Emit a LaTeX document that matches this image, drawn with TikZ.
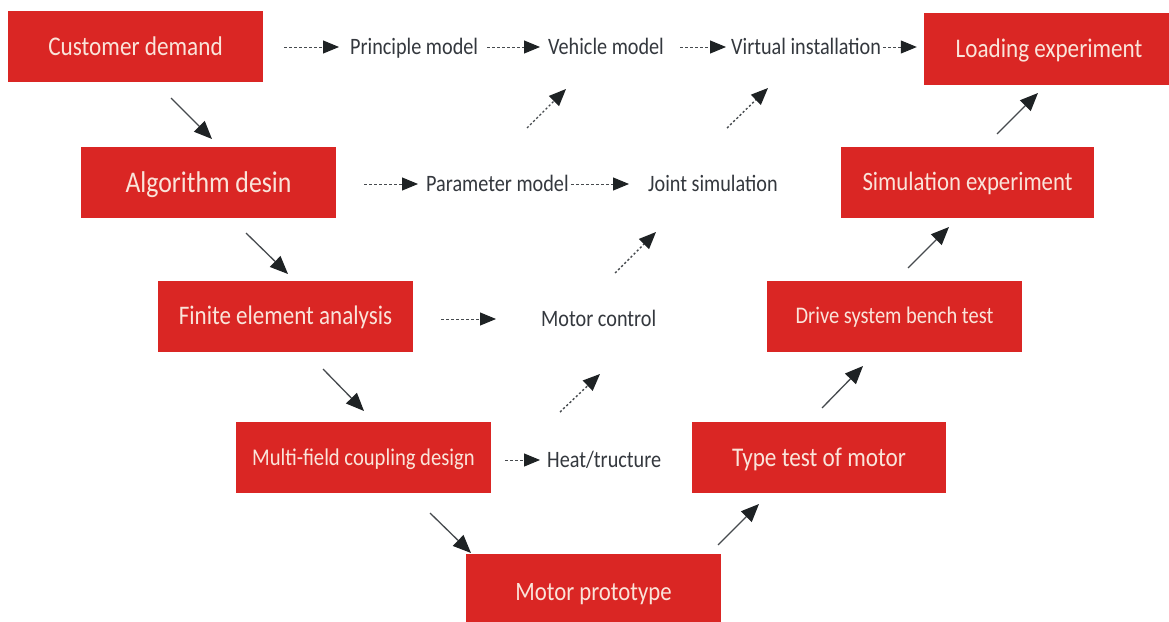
\documentclass[tikz,border=0pt]{standalone}
\usepackage{fontspec}
\setmainfont{Carlito}[FakeStretch=0.86]
\usetikzlibrary{arrows.meta}
\definecolor{boxred}{RGB}{218,38,36}
\definecolor{boxtext}{RGB}{250,228,218}
\definecolor{lbltext}{RGB}{52,56,62}
\definecolor{arrowcol}{RGB}{30,34,36}
\definecolor{linecol}{RGB}{70,74,78}
\begin{document}
\begin{tikzpicture}[x=1pt,y=-1pt,
  redbox/.style 2 args={fill=boxred, draw=none, minimum width=255pt, minimum height=71pt, inner sep=0pt,
    text=boxtext, text height=#2, text depth=0pt, font=\fontsize{#1}{#1}\selectfont},
  lbl/.style={inner sep=0pt, text=lbltext, text height=14.8pt, text depth=0pt, font=\fontsize{23.5pt}{24pt}\selectfont},
  darr/.style={draw=linecol, dash pattern=on 3pt off 2pt, line width=1pt, -{Triangle[length=16pt,width=13pt,fill=arrowcol,color=arrowcol]}},
  ddiag/.style={draw=linecol, dash pattern=on 2.2pt off 2.2pt, line width=1.4pt, -{Triangle[length=17pt,width=14pt,fill=arrowcol,color=arrowcol]}},
  sarr/.style={draw=linecol, line width=1.3pt, -{Triangle[length=18pt,width=15pt,fill=arrowcol,color=arrowcol]}}]
\useasboundingbox (0,0) rectangle (1169,621);
\fill[white] (0,0) rectangle (1169,621);
% red boxes
\node[redbox={27pt}{17pt}] (cd) at (135.5,46.5) {Customer demand};
\node[redbox={30pt}{19pt}] (ad) at (208.5,182.5) {Algorithm desin};
\node[redbox={26.8pt}{16.9pt}] (fe) at (285.5,316.5) {Finite element analysis};
\node[redbox={24pt}{15.2pt}] (mf) at (363.5,457.5) {Multi-field coupling design};
\node[redbox={26.5pt}{16.7pt}, minimum height=76pt] (mp) at (593.5,592) {Motor prototype};
\node[redbox={27pt}{17pt}, minimum width=254pt] (tt) at (819,457.5) {Type test of motor};
\node[redbox={23.8pt}{15pt}] (ds) at (894.5,316) {Drive system bench test};
\node[redbox={26.5pt}{16.7pt}, minimum width=253pt] (se) at (967.5,182.5) {Simulation experiment};
\node[redbox={26.9pt}{17pt}, minimum width=250pt, minimum height=72pt] (le) at (1049,48.5) {Loading experiment};
% labels
\node[lbl, anchor=west] (pm) at (350,47) {Principle model};
\node[lbl, anchor=west] (vm) at (548,47) {Vehicle model};
\node[lbl, anchor=west] (vi) at (731,47) {Virtual installation};
\node[lbl, anchor=west] (pa) at (426,184) {Parameter model};
\node[lbl, anchor=west] (js) at (648,184) {Joint simulation};
\node[lbl, anchor=west] (mc) at (541,319) {Motor control};
\node[lbl, anchor=west] (ht) at (547,460) {Heat/tructure};
% horizontal dashed arrows
\draw[darr, shorten <=21pt, shorten >=11pt] (cd.east |- pm.west) -- (pm.west);
\draw[darr, shorten <=9pt, shorten >=8pt] (pm.east) -- (vm.west);
\draw[darr, shorten <=16pt, shorten >=5pt] (vm.east) -- (vi.west);
\draw[darr, shorten <=2pt, shorten >=7pt] (vi.east) -- (le.west |- vi.east);
\draw[darr, shorten <=28pt, shorten >=8pt] (ad.east |- pa.west) -- (pa.west);
\draw[darr, shorten <=2pt, shorten >=19pt] (pa.east) -- (js.west);
\draw[darr, shorten <=28pt, shorten >=45pt] (fe.east |- mc.west) -- (mc.west);
\draw[darr, shorten <=14pt, shorten >=7pt] (mf.east |- ht.west) -- (ht.west);
% diagonal dashed arrows
\coordinate (d1s) at (527,128); \coordinate (d1e) at (566,89);
\coordinate (d2s) at (727,128); \coordinate (d2e) at (768,88);
\coordinate (d3s) at (615,273); \coordinate (d3e) at (656,232);
\coordinate (d4s) at (560,412); \coordinate (d4e) at (600,374);
\draw[ddiag] (d1s) -- (d1e);
\draw[ddiag] (d2s) -- (d2e);
\draw[ddiag] (d3s) -- (d3e);
\draw[ddiag] (d4s) -- (d4e);
% solid diagonal arrows
\coordinate (s1s) at (171,98);  \coordinate (s1e) at (212,139);
\coordinate (s2s) at (246,233); \coordinate (s2e) at (288,274);
\coordinate (s3s) at (323,369); \coordinate (s3e) at (364,411);
\coordinate (s4s) at (430,513); \coordinate (s4e) at (471,553);
\coordinate (s5s) at (718,545); \coordinate (s5e) at (759,504);
\coordinate (s6s) at (822,408); \coordinate (s6e) at (863,366);
\coordinate (s7s) at (908,268); \coordinate (s7e) at (949,227);
\coordinate (s8s) at (997,134); \coordinate (s8e) at (1038,93);
\foreach \i in {1,...,8} {\draw[sarr] (s\i s) -- (s\i e);}
\end{tikzpicture}
\end{document}
